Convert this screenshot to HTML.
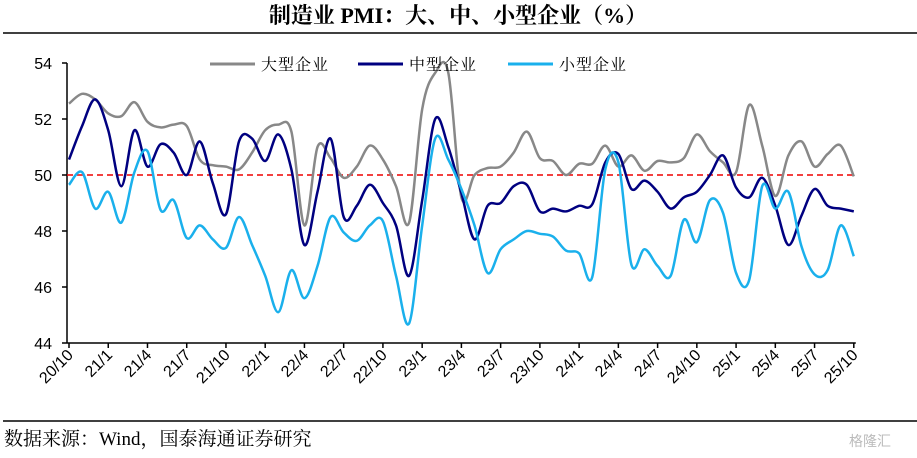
<!DOCTYPE html>
<html><head><meta charset="utf-8">
<style>
body{margin:0;background:#fff;}
svg{display:block;font-family:"Liberation Serif","Noto Serif CJK SC",serif;}
.sans{font-family:"Liberation Sans","Noto Sans CJK SC",sans-serif;}
</style></head>
<body>
<svg id="chart" width="917" height="458" viewBox="0 0 917 458">
<text x="458" y="23" text-anchor="middle" font-size="22" font-weight="bold" fill="#000">制造业 PMI：大、中、小型企业（%）</text>
<line x1="3" y1="33" x2="917" y2="33" stroke="#000" stroke-width="1.5"/>
<line x1="3" y1="421" x2="917" y2="421" stroke="#000" stroke-width="1.5"/>
<text x="4" y="445" font-size="19" fill="#000">数据来源：Wind，国泰海通证券研究</text>
<text x="870" y="446" font-size="14" fill="#bbb" text-anchor="middle" class="sans">格隆汇</text>
<g id="axes"></g>
<g id="series"></g>
<g>
<line x1="210" y1="64" x2="255" y2="64" stroke="#888" stroke-width="3"/>
<text x="261" y="70" font-size="16" letter-spacing="1">大型企业</text>
<line x1="358" y1="64" x2="403" y2="64" stroke="#000080" stroke-width="3"/>
<text x="409" y="70" font-size="16" letter-spacing="1">中型企业</text>
<line x1="508" y1="64" x2="553" y2="64" stroke="#1ab0ec" stroke-width="3"/>
<text x="559" y="70" font-size="16" letter-spacing="1">小型企业</text>
</g>
</svg>
<script>
const large=[52.55,52.9,52.7,52.2,52.1,52.6,51.9,51.7,51.8,51.75,50.55,50.35,50.3,50.2,50.8,51.6,51.8,51.55,48.2,51.0,50.6,49.9,50.3,51.05,50.55,49.6,48.3,52.35,53.65,53.65,49.2,50.0,50.25,50.3,50.8,51.55,50.6,50.5,50.0,50.4,50.4,51.05,50.3,50.7,50.15,50.5,50.45,50.6,51.45,50.85,50.45,50.1,52.5,51.05,49.25,50.7,51.2,50.3,50.75,51.05,49.95];
const medium=[50.55,51.75,52.7,51.6,49.6,51.6,50.3,51.1,50.8,50.0,51.2,49.7,48.6,51.2,51.3,50.5,51.45,50.2,47.5,49.4,51.3,48.5,48.9,49.65,49.0,48.2,46.4,49.1,52.0,51.0,49.35,47.7,48.9,49.0,49.6,49.65,48.7,48.8,48.7,48.9,48.95,50.45,50.75,49.5,49.8,49.4,48.8,49.2,49.4,50.0,50.7,49.55,49.2,49.9,48.9,47.5,48.55,49.5,48.9,48.8,48.7];
const small=[49.65,50.1,48.8,49.4,48.3,50.1,50.85,48.75,49.1,47.75,48.2,47.7,47.4,48.5,47.5,46.4,45.1,46.6,45.6,46.75,48.5,47.95,47.65,48.2,48.35,46.4,44.7,48.2,51.3,50.55,49.5,48.2,46.5,47.35,47.7,48.0,47.9,47.8,47.3,47.2,46.35,50.2,50.45,46.8,47.35,46.75,46.4,48.4,47.6,49.1,48.65,46.5,46.25,49.6,48.8,49.4,47.45,46.45,46.6,48.2,47.1];
const yTicks=[44,46,48,50,52,54];
const xTickLabels=["20/10","21/1","21/4","21/7","21/10","22/1","22/4","22/7","22/10","23/1","23/4","23/7","23/10","24/1","24/4","24/7","24/10","25/1","25/4","25/7","25/10"];
const refValue=50;

const NS="http://www.w3.org/2000/svg";
const X0=69, STEP=13.08, Y54=63, PX=28;
const xs=i=>X0+i*STEP;
const ys=v=>Y54+(54-v)*PX;
function mk(tag,attrs,parent){const e=document.createElementNS(NS,tag);for(const k in attrs)e.setAttribute(k,attrs[k]);parent.appendChild(e);return e;}
const axes=document.getElementById('axes'), series=document.getElementById('series');

const ya=mk('line',{x1:67,y1:ys(54),x2:67,y2:ys(44),stroke:'#000','stroke-width':1.5},axes);


yTicks.forEach(t=>{
  const l=mk('line',{x1:62,y1:ys(t),x2:67,y2:ys(t),stroke:'#000','stroke-width':1.5},axes);
  
  
  const tx=mk('text',{x:52,y:ys(t)+6,'text-anchor':'end','font-size':16,'class':'sans'},axes);
  tx.textContent=t;
  
  
});
const n=large.length;
const xa=mk('line',{x1:67,y1:ys(44),x2:xs(n-1)+2,y2:ys(44),stroke:'#000','stroke-width':1.5},axes);


xTickLabels.forEach((lab,k)=>{
  const x=xs(k*3);
  const l=mk('line',{x1:x,y1:ys(44),x2:x,y2:ys(44)+5,stroke:'#000','stroke-width':1.5},axes);
  
  
  const tx=mk('text',{x:x+5,y:ys(44)+13,'text-anchor':'end','font-size':16,'class':'sans',transform:`rotate(-45 ${x+5} ${ys(44)+13})`},axes);
  tx.textContent=lab;
  
  
});
const ref=mk('line',{x1:67,y1:ys(refValue),x2:xs(n-1),y2:ys(refValue),stroke:'#e00','stroke-width':1.5,'stroke-dasharray':'6,4'},series);



function smooth(vals){
  const p=vals.map((v,i)=>[xs(i),ys(v)]);
  let d=`M${p[0][0]},${p[0][1]}`;
  for(let i=0;i<p.length-1;i++){
    const p0=p[i-1]||p[i],p1=p[i],p2=p[i+1],p3=p[i+2]||p2;
    const c1=[p1[0]+(p2[0]-p0[0])/6,p1[1]+(p2[1]-p0[1])/6];
    const c2=[p2[0]-(p3[0]-p1[0])/6,p2[1]-(p3[1]-p1[1])/6];
    d+=` C${c1[0].toFixed(1)},${c1[1].toFixed(1)} ${c2[0].toFixed(1)},${c2[1].toFixed(1)} ${p2[0].toFixed(1)},${p2[1].toFixed(1)}`;
  }
  return d;
}
const sLarge=mk('path',{d:smooth(large),fill:'none',stroke:'#888','stroke-width':2.5},series);


const sMed=mk('path',{d:smooth(medium),fill:'none',stroke:'#000080','stroke-width':2.5},series);


const sSmall=mk('path',{d:smooth(small),fill:'none',stroke:'#1ab0ec','stroke-width':2.5},series);


</script>
</body></html>
